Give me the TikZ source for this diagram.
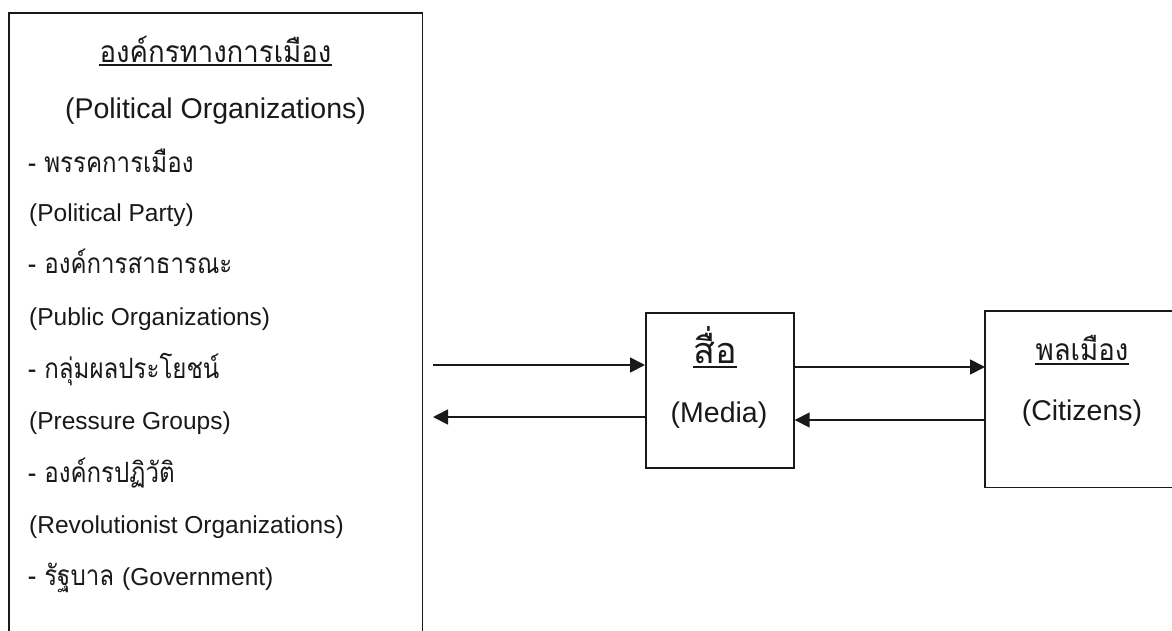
\documentclass[tikz,border=0pt]{standalone}
\usepackage{fontspec}
\setmainfont{Liberation Sans}
\newfontfamily\thai[Script=Thai]{Loma}
\newfontfamily\thainarrow[Script=Thai,FakeStretch=0.86]{Loma}
\newfontfamily\thaititle[Script=Thai,FakeStretch=0.92]{Loma}
\usetikzlibrary{arrows.meta}
\tikzset{
  box/.style={draw=black!90, line width=1.7pt, inner sep=0pt, anchor=north west},
  openbox/.style={inner sep=0pt, anchor=north west},
  boxline/.style={draw=black!90, line width=1.7pt},
  arr/.style={draw=black!90, line width=1.7pt, -{Triangle[length=15pt,width=15pt]}},
  uline/.style={draw=black!90, line width=1.3pt},
  en/.style={font=\fontsize{24.5}{28}\selectfont, inner sep=0pt, anchor=base west, text=black!90},
  enbig/.style={font=\fontsize{28.5}{32}\selectfont, inner sep=0pt, anchor=base, text=black!90},
  th/.style={font=\thainarrow\fontsize{28}{30}\selectfont, inner sep=0pt, anchor=base west, text=black!90},
  thbig/.style={font=\thaititle\fontsize{30}{32}\selectfont, inner sep=0pt, anchor=base, text=black!90}
}
\begin{document}
\begin{tikzpicture}[x=1pt,y=-1pt]
\useasboundingbox (0,0) rectangle (1172,630);
\clip (0,0) rectangle (1172,630);
% boxes
\node[openbox, minimum width=413pt, minimum height=700pt] (org) at (9,13) {};
\draw[boxline] (org.south west) -- (org.north west) -- (org.north east) -- (org.south east);
\node[box, minimum width=148pt, minimum height=155pt] (media) at (645,312) {};
\node[openbox, minimum width=320pt, minimum height=176pt] (cit) at (985,311) {};
\draw[boxline] (cit.north east) -- (cit.north west) -- (cit.south west) -- (cit.south east);
% left box text
\node[thbig] (t0) at (215.5,62) {องค์กรทางการเมือง};
\draw[uline] ([yshift=-3pt]t0.base west) -- ([yshift=-3pt]t0.base east);
\node[enbig] (e0) at (215.5,118) {(Political Organizations)};
\node[th] (t1) at (28,172) {- พรรคการเมือง};
\node[en] (e1) at (29,221) {(Political Party)};
\node[th] (t2) at (28,273) {- องค์การสาธารณะ};
\node[en] (e2) at (29,325) {(Public Organizations)};
\node[th] (t3) at (28,378) {- กลุ่มผลประโยชน์};
\node[en] (e3) at (29,429) {(Pressure Groups)};
\node[th] (t4) at (28,482) {- องค์กรปฏิวัติ};
\node[en] (e4) at (29,533) {(Revolutionist Organizations)};
\node[th] (t5) at (28,585) {- รัฐบาล \fontspec{Liberation Sans}\fontsize{24.5}{28}\selectfont(Government)};
% media text
\node[thbig, font=\thai\fontsize{36}{38}\selectfont] (tm) at (715,363) {สื่อ};
\draw[uline] ([yshift=-4pt]tm.base west) -- ([yshift=-4pt]tm.base east);
\node[enbig] (em) at (719,422) {(Media)};
% citizens text
\node[thbig] (tc) at (1082,360) {พลเมือง};
\draw[uline] ([yshift=-4pt]tc.base west) -- ([yshift=-4pt]tc.base east);
\node[enbig] (ec) at (1082,420) {(Citizens)};
% arrows
\coordinate (a1) at (433,365);
\coordinate (a2) at (433,417);
\draw[arr] (a1) -- (media.west |- a1);
\draw[arr] (media.west |- a2) -- (a2);
\draw[arr] (media.east |- 0,367) -- (cit.west |- 0,367);
\draw[arr] (cit.west |- 0,420) -- (media.east |- 0,420);
\end{tikzpicture}
\end{document}
